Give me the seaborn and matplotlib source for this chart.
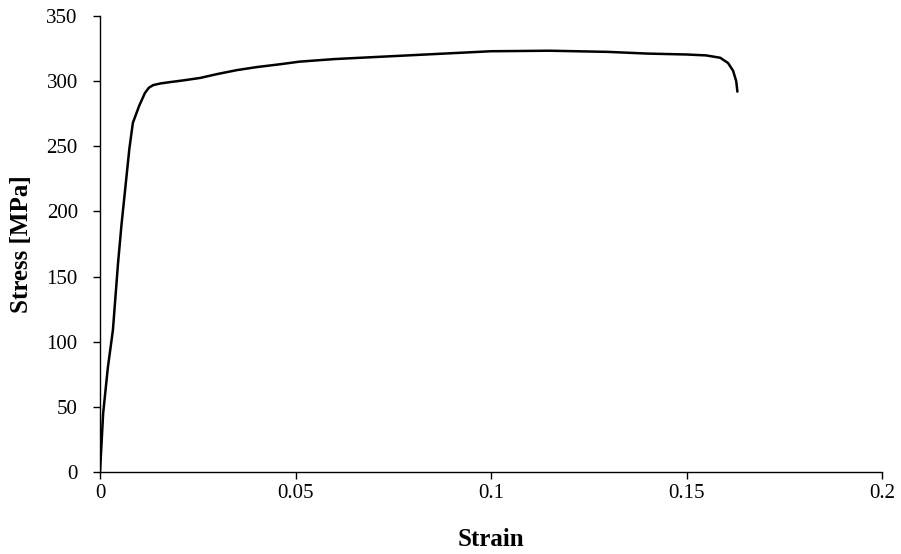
import pandas as pd
import seaborn as sns
import matplotlib.pyplot as plt
from matplotlib.ticker import FuncFormatter, MultipleLocator

strain = [0, 0.0008, 0.002, 0.0033, 0.0046, 0.0055, 0.0064, 0.0075, 0.0084, 0.010,
          0.0115, 0.0125, 0.0136, 0.0155, 0.0179, 0.021, 0.0256, 0.03, 0.035, 0.04,
          0.046, 0.051, 0.06, 0.08, 0.1, 0.115, 0.13, 0.14, 0.15, 0.155,
          0.1586, 0.1606, 0.1619, 0.1627, 0.163]
stress = [0, 45, 80, 109, 160, 190, 216, 248, 268, 281,
          291, 295, 297, 298.3, 299.3, 300.5, 302.5, 305.5, 308.5, 310.8,
          313, 315, 317, 320, 323,
          323.4, 322.5, 321.2, 320.5, 319.8,
          318, 314, 308, 300, 292]

df = pd.DataFrame({"Strain": strain, "Stress": stress})

sns.set_style("ticks")
plt.rcParams["font.family"] = ["Liberation Serif", "DejaVu Serif"]
plt.rcParams["text.color"] = "black"
plt.rcParams["axes.labelcolor"] = "black"

fig = plt.figure(figsize=(9.01, 5.54), dpi=100)
ax = fig.add_axes([0.111, 0.148, 0.868, 0.823])
sns.lineplot(data=df, x="Strain", y="Stress", sort=False, color="black", linewidth=1.8, ax=ax)

ax.set_xlim(0, 0.2)
ax.set_ylim(0, 350)
ax.xaxis.set_major_locator(MultipleLocator(0.05))
ax.yaxis.set_major_locator(MultipleLocator(50))
ax.xaxis.set_major_formatter(FuncFormatter(lambda v, p: f"{v:g}"))
ax.tick_params(labelsize=15, length=5, width=1, colors="black", labelcolor="black", direction="out")
ax.tick_params(axis="y", pad=11)
ax.set_xlabel("Strain", fontsize=18, fontweight="bold", labelpad=18)
ax.set_ylabel("Stress [MPa]", fontsize=18, fontweight="bold", labelpad=10)
for s in ["left", "bottom"]:
    ax.spines[s].set_color("black")
    ax.spines[s].set_linewidth(1)
sns.despine(ax=ax)

fig.savefig("out.png", dpi=100)
